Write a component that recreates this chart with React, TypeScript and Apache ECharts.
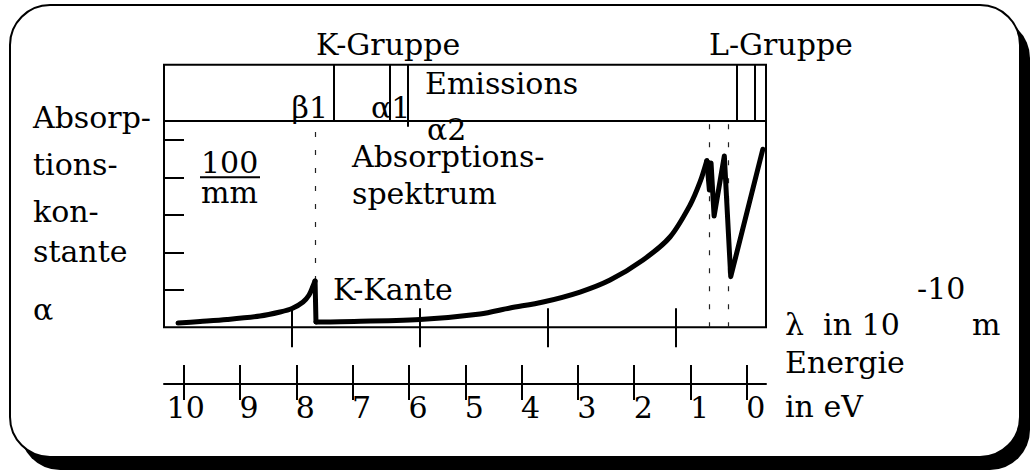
import React, { useEffect, useRef } from "react";
import * as echarts from "echarts";

const FONT = "'DejaVu Serif', serif";
const FS = 30;

// Absorption spectrum: wavelength λ (axis units) and absorption constant α (axis units)
// segment below the K edge
const kSideLambda = [0.11, 0.282, 0.493, 0.751, 0.908, 1.002, 1.088, 1.135, 1.166, 1.182];
const kSideAlpha = [0.115, 0.155, 0.208, 0.301, 0.408, 0.501, 0.675, 0.861, 1.101, 1.235];
// segment between K edge and L edges
const midLambda = [1.189, 1.377, 2.003, 2.473, 2.707, 2.966, 3.255, 3.49, 3.748, 3.959, 4.116, 4.194, 4.247];
const midAlpha = [0.141, 0.149, 0.208, 0.355, 0.515, 0.675, 0.941, 1.261, 1.795, 2.408, 3.261, 3.875, 4.443];
// L edge region
const lRegionLambda = [4.247, 4.267, 4.28, 4.304, 4.384, 4.434, 4.685];
const lRegionAlpha = [4.443, 3.661, 4.381, 2.968, 4.568, 1.349, 4.747];

// axis extents and ticks
const lambdaRange = [0, 4.71];
const alphaRange = [0, 7];
const lambdaTicks = [1, 2, 3, 4];
const alphaTicks = [1, 2, 3, 4, 5];
const energyRange = [-0.34, 10.35];
const energyTicks = [0, 1, 2, 3, 4, 5, 6, 7, 8, 9, 10];
const energyStripRange = [-0.2262, 1];
const energyTickBelow = -0.19;

// emission box divider (α level) and emission lines (λ)
const emissionDivider = 5.51;
const kEmissionLines = [1.325, 1.768, 1.907];
const kEmissionBottoms = [5.51, 5.51, 5.35];
const lEmissionLines = [4.481, 4.624];

// absorption edges (dashed)
const absorptionEdges = [1.182, 4.267, 4.411];
const absorptionEdgeBottoms = [1.235, 0, 0];

const texts: [string, number, number, string][] = [
  ["K-Gruppe", 316, 44, "left"],
  ["L-Gruppe", 709, 44, "left"],
  ["Emissions", 425, 83, "left"],
  ["β1", 328, 107.5, "right"],
  ["α1", 371, 107.5, "left"],
  ["α2", 427, 129.5, "left"],
  ["Absorp-", 33, 117, "left"],
  ["tions-", 33, 164, "left"],
  ["kon-", 33, 211, "left"],
  ["stante", 33, 251, "left"],
  ["α", 33, 309.5, "left"],
  ["100", 201, 162.5, "left"],
  ["mm", 201, 192, "left"],
  ["Absorptions-", 352, 156.7, "left"],
  ["spektrum", 352, 193, "left"],
  ["K-Kante", 333, 289, "left"],
  ["-10", 917, 288, "left"],
  ["λ  in 10", 785, 324.5, "left"],
  ["m", 972, 324.5, "left"],
  ["Energie", 785, 362, "left"],
  ["in eV", 785, 406, "left"],
];

export default function App() {
  const ref = useRef<HTMLDivElement>(null);
  useEffect(() => {
    if (!ref.current) return;
    const chart = echarts.init(ref.current, undefined, { renderer: "svg" });
    const black = "#000";
    const solid = { color: black, width: 2, type: "solid" };
    const dashed = { color: "#222", width: 1.2, type: [5, 13] };
    const markData: any[] = [];
    markData.push({ yAxis: emissionDivider, lineStyle: solid });
    kEmissionLines.forEach((x, i) => {
      markData.push([
        { coord: [x, kEmissionBottoms[i]], lineStyle: solid },
        { coord: [x, alphaRange[1]], lineStyle: solid },
      ]);
    });
    lEmissionLines.forEach((x) => {
      markData.push([
        { coord: [x, emissionDivider], lineStyle: solid },
        { coord: [x, alphaRange[1]], lineStyle: solid },
      ]);
    });
    absorptionEdges.forEach((x, i) => {
      markData.push([
        { coord: [x, absorptionEdgeBottoms[i]], lineStyle: dashed },
        { coord: [x, emissionDivider], lineStyle: dashed },
      ]);
    });
    const energyBelowTicks = energyTicks.map((e) => [
      { coord: [e, 0], lineStyle: solid },
      { coord: [e, energyTickBelow], lineStyle: solid },
    ]);

    const curveStyle = { color: black, width: 5, cap: "round", join: "round" };
    const tickStyle = { color: black, width: 2 };
    const graphics: any[] = [
      {
        type: "rect",
        z: -100,
        shape: { x: 20, y: 18, width: 1010, height: 452, r: 40 },
        style: { fill: black },
        silent: true,
      },
      {
        type: "rect",
        z: -99,
        shape: { x: 10, y: 5, width: 1010, height: 452, r: 40 },
        style: { fill: "#fff", stroke: black, lineWidth: 2 },
        silent: true,
      },
      {
        type: "line",
        z: 100,
        shape: { x1: 200, y1: 177.3, x2: 260, y2: 177.3 },
        style: { stroke: black, lineWidth: 2 },
        silent: true,
      },
      ...texts.map(([t, x, y, a]) => ({
        type: "text",
        z: 100,
        x,
        y,
        silent: true,
        style: {
          text: t,
          fontSize: FS,
          fontFamily: FONT,
          fill: black,
          align: a,
          verticalAlign: "middle",
        },
      })),
    ];

    const lambdaAxis = (inside: boolean, length: number) => ({
      gridIndex: 0,
      type: "value",
      position: "bottom",
      min: lambdaRange[0],
      max: lambdaRange[1],
      axisLine: { show: false },
      splitLine: { show: false },
      axisLabel: { show: false },
      axisTick: { show: true, inside, length, customValues: lambdaTicks, lineStyle: tickStyle },
    });

    chart.setOption({
      animation: false,
      backgroundColor: "#fff",
      textStyle: { fontFamily: FONT },
      graphic: graphics,
      grid: [
        {
          left: 164,
          top: 64.8,
          width: 602,
          height: 262.5,
          show: true,
          borderColor: black,
          borderWidth: 2,
          backgroundColor: "transparent",
          z: 5,
        },
        { left: 164, top: 300, width: 602, height: 103, show: false },
      ],
      xAxis: [
        lambdaAxis(false, 20),
        lambdaAxis(true, 19),
        {
          gridIndex: 1,
          type: "value",
          position: "bottom",
          min: energyRange[0],
          max: energyRange[1],
          inverse: true,
          axisLine: { show: true, onZero: true, lineStyle: tickStyle },
          splitLine: { show: false },
          axisTick: { show: true, inside: true, length: 19, customValues: energyTicks, lineStyle: tickStyle },
          axisLabel: {
            show: true,
            customValues: energyTicks,
            color: black,
            align: "center",
            margin: -11,
            formatter: (v: number) => (v >= 10 ? `{t|${v}}` : `{d|${v}}`),
            rich: {
              t: { fontSize: FS, fontFamily: FONT, color: black, padding: [0, 0, 0, 4] },
              d: { fontSize: FS, fontFamily: FONT, color: black, padding: [0, 0, 0, 18] },
            },
          },
        },
      ],
      yAxis: [
        {
          gridIndex: 0,
          type: "value",
          min: alphaRange[0],
          max: alphaRange[1],
          axisLine: { show: false },
          splitLine: { show: false },
          axisLabel: { show: false },
          axisTick: { show: true, inside: true, length: 20, customValues: alphaTicks, lineStyle: tickStyle },
        },
        {
          gridIndex: 1,
          type: "value",
          min: energyStripRange[0],
          max: energyStripRange[1],
          show: false,
        },
      ],
      series: [
        {
          type: "line",
          xAxisIndex: 0,
          yAxisIndex: 0,
          data: kSideLambda.map((x, i) => [x, kSideAlpha[i]]),
          symbol: "none",
          smooth: 0.3,
          lineStyle: curveStyle,
          z: 10,
          markLine: {
            silent: true,
            symbol: ["none", "none"],
            label: { show: false },
            animation: false,
            data: markData,
          },
        },
        {
          type: "line",
          xAxisIndex: 0,
          yAxisIndex: 0,
          data: midLambda.map((x, i) => [x, midAlpha[i]]),
          symbol: "none",
          smooth: 0.3,
          lineStyle: curveStyle,
          z: 10,
        },
        {
          type: "line",
          xAxisIndex: 0,
          yAxisIndex: 0,
          data: [
            [kSideLambda[kSideLambda.length - 1], kSideAlpha[kSideAlpha.length - 1]],
            [midLambda[0], midAlpha[0]],
          ],
          symbol: "none",
          lineStyle: curveStyle,
          z: 10,
        },
        {
          type: "line",
          xAxisIndex: 0,
          yAxisIndex: 0,
          data: lRegionLambda.map((x, i) => [x, lRegionAlpha[i]]),
          symbol: "none",
          lineStyle: curveStyle,
          z: 10,
        },
        {
          type: "line",
          xAxisIndex: 2,
          yAxisIndex: 1,
          data: [],
          symbol: "none",
          markLine: {
            silent: true,
            symbol: ["none", "none"],
            label: { show: false },
            animation: false,
            data: energyBelowTicks,
          },
        },
      ],
    });
    return () => chart.dispose();
  }, []);
  return (
    <div
      ref={ref}
      style={{ position: "absolute", left: 0, top: 0, width: 1030, height: 470 }}
    />
  );
}
